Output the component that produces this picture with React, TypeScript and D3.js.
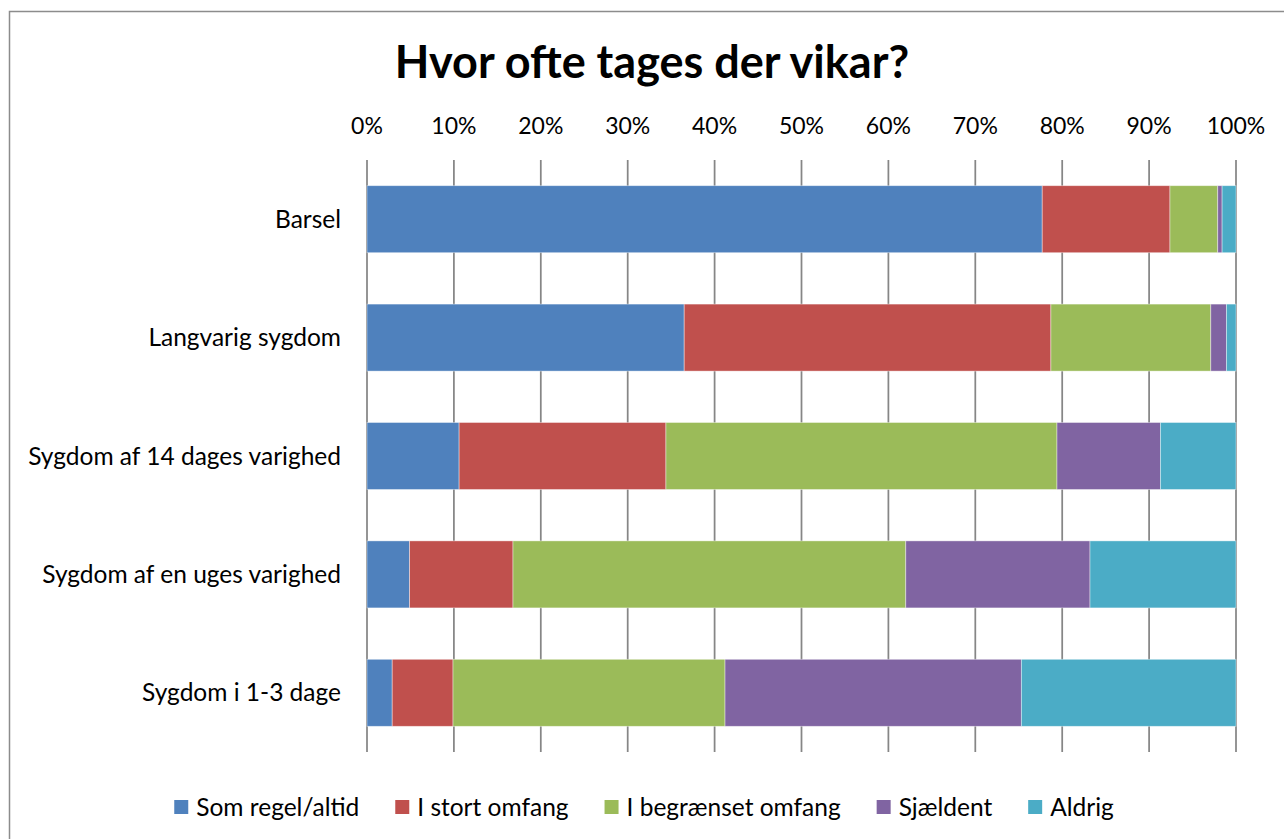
import React, { useRef, useEffect } from "react";
import * as d3 from "d3";

// categories (top to bottom)
const categories = [
  "Barsel",
  "Langvarig sygdom",
  "Sygdom af 14 dages varighed",
  "Sygdom af en uges varighed",
  "Sygdom i 1-3 dage",
];

// series values, percent of answers
const somRegel = [77.7, 36.5, 10.6, 4.9, 2.9];
const stortOmfang = [14.7, 42.2, 23.8, 11.9, 7.0];
const begraenset = [5.5, 18.4, 45.0, 45.2, 31.3];
const sjaeldent = [0.5, 1.8, 11.9, 21.2, 34.1];
const aldrig = [1.6, 1.1, 8.7, 16.8, 24.7];

const seriesNames = ["Som regel/altid", "I stort omfang", "I begrænset omfang", "Sjældent", "Aldrig"];
const seriesColors = ["#4F81BD", "#C0504D", "#9BBB59", "#8064A2", "#4BACC6"];
const xTicks = [0, 10, 20, 30, 40, 50, 60, 70, 80, 90, 100];

const title = "Hvor ofte tages der vikar?";
const FONT = "Lato, 'Open Sans', sans-serif";

export default function App() {
  const svgRef = useRef<SVGSVGElement>(null);

  useEffect(() => {
    if (!svgRef.current) return;
    const svg = d3.select(svgRef.current);
    svg.selectAll("*").remove();

    const width = 1284;
    const height = 839;
    const plot = { left: 367, right: 1236, top: 160, bottom: 752 };

    // chart frame (runs off the right and bottom of the picture)
    svg.append("rect")
      .attr("x", 9.5)
      .attr("y", 11.5)
      .attr("width", 1400)
      .attr("height", 1000)
      .attr("fill", "#fff")
      .attr("stroke", "#8c8c8c")
      .attr("stroke-width", 1.5);

    const table = categories.map((c, i) => ({
      cat: c,
      s0: somRegel[i],
      s1: stortOmfang[i],
      s2: begraenset[i],
      s3: sjaeldent[i],
      s4: aldrig[i],
    }));
    const keys = ["s0", "s1", "s2", "s3", "s4"];
    const stacked = d3.stack<any>().keys(keys)(table);

    const x = d3.scaleLinear().domain([0, 100]).range([plot.left, plot.right]);
    const y = d3.scaleBand<string>()
      .domain(categories)
      .range([plot.top, plot.bottom])
      .paddingInner(0.434)
      .paddingOuter(0.217);

    // title
    svg.append("text")
      .attr("x", 652)
      .attr("y", 78)
      .attr("text-anchor", "middle")
      .attr("font-family", FONT)
      .attr("font-weight", "bold")
      .attr("font-size", 45)
      .attr("fill", "#000")
      .text(title);

    // vertical grid
    svg.append("g")
      .selectAll("line")
      .data(xTicks)
      .join("line")
      .attr("x1", d => x(d))
      .attr("x2", d => x(d))
      .attr("y1", plot.top)
      .attr("y2", plot.bottom)
      .attr("stroke", "#868686")
      .attr("stroke-width", 1.75);

    // tick labels on top
    svg.append("g")
      .selectAll("text")
      .data(xTicks)
      .join("text")
      .attr("x", d => x(d))
      .attr("y", 134)
      .attr("text-anchor", "middle")
      .attr("font-family", FONT)
      .attr("font-size", 23)
      .attr("fill", "#000")
      .text(d => `${d}%`);

    // bars
    svg.append("g")
      .selectAll("g")
      .data(stacked)
      .join("g")
      .attr("fill", (_, i) => seriesColors[i])
      .selectAll("rect")
      .data(d => d)
      .join("rect")
      .attr("x", d => x(d[0]))
      .attr("width", d => x(d[1]) - x(d[0]))
      .attr("y", d => y(d.data.cat)!)
      .attr("height", y.bandwidth())
      .attr("stroke", "#fff")
      .attr("stroke-opacity", 0.5)
      .attr("stroke-width", 0.8);

    // category labels
    svg.append("g")
      .selectAll("text")
      .data(categories)
      .join("text")
      .attr("x", plot.left - 26)
      .attr("y", d => y(d)! + y.bandwidth() / 2)
      .attr("dy", "0.35em")
      .attr("text-anchor", "end")
      .attr("font-family", FONT)
      .attr("font-size", 24.5)
      .attr("fill", "#000")
      .text(d => d);

    // legend, centred in the frame
    const legend = svg.append("g");
    const items = legend.selectAll("g")
      .data(seriesNames)
      .join("g");
    items.append("rect")
      .attr("x", 0)
      .attr("y", -7)
      .attr("width", 14)
      .attr("height", 14)
      .attr("fill", (_, i) => seriesColors[i]);
    const labels = items.append("text")
      .attr("x", 22)
      .attr("dy", "0.35em")
      .attr("font-family", FONT)
      .attr("font-size", 24.5)
      .attr("fill", "#000")
      .text(d => d);
    const widths = labels.nodes().map(n => (n as SVGTextElement).getComputedTextLength());
    const gap = 36;
    let total = 0;
    const offsets = widths.map(w => {
      const o = total;
      total += 22 + w + gap;
      return o;
    });
    total -= gap;
    const startX = 644 - total / 2;
    items.attr("transform", (_, i) => `translate(${startX + offsets[i]},807)`);

    svg.attr("width", width).attr("height", height);
  }, []);

  return (
    <div style={{ position: "absolute", left: 0, top: 0, width: 1284, height: 839, overflow: "hidden", background: "#fff" }}>
      <svg ref={svgRef} width={1284} height={839} />
    </div>
  );
}
